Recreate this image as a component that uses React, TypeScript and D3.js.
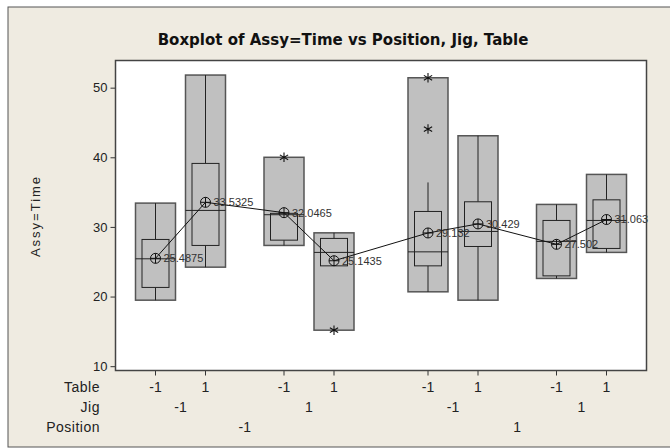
import React, { useEffect, useRef } from 'react';
import * as d3 from 'd3';

// factor levels, one entry per box (Position / Jig / Table)
const tableLabels = ['-1', '1', '-1', '1', '-1', '1', '-1', '1'];
const jigLabels = ['-1', '1', '-1', '1'];
const positionLabels = ['-1', '1'];

// box statistics
const rangeLow = [19.48, 24.22, 27.34, 15.17, 20.68, 19.48, 22.6, 26.34];
const rangeHigh = [33.42, 51.81, 40.0, 29.15, 51.42, 43.09, 33.23, 37.54];
const q1Vals = [21.31, 27.34, 28.1, 24.41, 24.41, 27.19, 22.97, 26.91];
const medianVals = [25.42, 32.37, 31.75, 26.34, 26.42, 29.35, 27.92, 30.93];
const q3Vals = [28.2, 39.12, 31.95, 28.35, 32.22, 33.61, 30.93, 33.89];
const whiskerLow = [19.48, 24.22, 27.34, 24.41, 20.68, 19.48, 22.6, 26.34];
const whiskerHigh = [33.42, 51.81, 31.95, 29.15, 36.39, 43.09, 33.23, 37.54];
const meanVals = [25.4875, 33.5325, 32.0465, 25.1435, 29.132, 30.429, 27.502, 31.063];
const meanLabels = ['25.4875', '33.5325', '32.0465', '25.1435', '29.132', '30.429', '27.502', '31.063'];
const outliers = [[], [], [40.0], [15.17], [44.05, 51.42], [], [], []];

const yTicks = [10, 20, 30, 40, 50];

const W = 670,
  H = 448;
const plot = { left: 115.5, top: 60.5, right: 646.5, bottom: 370.5 };
const jigGap = 0.57,
  posGap = 0.31;
const font = '"Liberation Sans", Arial, sans-serif';

// slot of box k along the x axis, with extra room between jigs and positions
function slot(k) {
  const jig = Math.floor(k / 2);
  const pos = Math.floor(k / 4);
  return k + jig * jigGap + pos * posGap;
}

export default function App() {
  const svgRef = useRef(null);

  useEffect(() => {
    const svg = d3.select(svgRef.current);
    svg.selectAll('*').remove();

    // panel background
    svg.append('rect').attr('x', 0).attr('y', 0).attr('width', W).attr('height', H).attr('fill', '#fff');
    svg
      .append('rect')
      .attr('x', 8)
      .attr('y', 7)
      .attr('width', W)
      .attr('height', 440)
      .attr('fill', '#EFEBE1')
      .attr('stroke', '#555')
      .attr('stroke-width', 1);

    var x = d3.scaleLinear().domain([-0.8, 9.82]).range([plot.left, plot.right]);
    var y = d3.scaleLinear().domain([9.38, 53.9]).range([plot.bottom, plot.top]);

    svg
      .append('rect')
      .attr('x', plot.left)
      .attr('y', plot.top)
      .attr('width', plot.right - plot.left)
      .attr('height', plot.bottom - plot.top)
      .attr('fill', '#fff');

    // title
    svg
      .append('text')
      .attr('x', 343)
      .attr('y', 45)
      .attr('text-anchor', 'middle')
      .style('font-family', '"DejaVu Sans", Verdana, sans-serif')
      .style('font-size', '15px')
      .style('font-weight', 'bold')
      .style('fill', '#111')
      .text('Boxplot of Assy=Time vs Position, Jig, Table');

    // y axis
    const yAxis = svg
      .append('g')
      .attr('transform', 'translate(' + plot.left + ',0)')
      .call(d3.axisLeft(y).tickValues(yTicks).tickSize(5).tickPadding(3));
    yAxis.select('.domain').remove();
    yAxis.selectAll('line').attr('stroke', '#333');
    yAxis
      .selectAll('text')
      .style('font-family', font)
      .style('font-size', '13px')
      .attr('fill', '#222');

    svg
      .append('text')
      .attr('transform', 'translate(40,216) rotate(-90)')
      .attr('text-anchor', 'middle')
      .style('font-family', font)
      .style('font-size', '13px')
      .style('letter-spacing', '2px')
      .style('fill', '#222')
      .text('Assy=Time');

    // x axis: ticks at each box, three rows of factor labels
    const idx = d3.range(tableLabels.length);
    svg
      .append('g')
      .selectAll('line')
      .data(idx)
      .enter()
      .append('line')
      .attr('x1', k => x(slot(k)))
      .attr('x2', k => x(slot(k)))
      .attr('y1', plot.bottom)
      .attr('y2', plot.bottom + 5)
      .attr('stroke', '#333');

    const rowLabel = (txt, yy) =>
      svg
        .append('text')
        .attr('x', 100)
        .attr('y', yy)
        .attr('text-anchor', 'end')
        .style('font-family', font)
        .style('font-size', '14px')
        .style('letter-spacing', '0.5px')
        .style('fill', '#222')
        .text(txt);
    rowLabel('Table', 392);
    rowLabel('Jig', 412);
    rowLabel('Position', 432);

    const lab = (g, data, xf, yy) =>
      g
        .selectAll('text')
        .data(data)
        .enter()
        .append('text')
        .attr('x', xf)
        .attr('y', yy)
        .attr('text-anchor', 'middle')
        .style('font-family', font)
        .style('font-size', '14px')
        .style('fill', '#222')
        .text(d => d);
    lab(svg.append('g'), tableLabels, (d, i) => x(slot(i)), 392);
    lab(svg.append('g'), jigLabels, (d, i) => (x(slot(2 * i)) + x(slot(2 * i + 1))) / 2, 412);
    lab(svg.append('g'), positionLabels, (d, i) => (x(slot(4 * i)) + x(slot(4 * i + 3))) / 2, 432);

    const outerHalf = x(0.4) - x(0);
    const innerHalf = x(0.27) - x(0);
    const boxes = svg.append('g');

    idx.forEach(k => {
      const cx = x(slot(k));
      // range box
      boxes
        .append('rect')
        .attr('x', cx - outerHalf)
        .attr('y', y(rangeHigh[k]))
        .attr('width', outerHalf * 2)
        .attr('height', y(rangeLow[k]) - y(rangeHigh[k]))
        .attr('fill', '#C0C0C0')
        .attr('stroke', '#555')
        .attr('stroke-width', 1.5);
      // whiskers
      boxes
        .append('line')
        .attr('x1', cx)
        .attr('x2', cx)
        .attr('y1', y(whiskerHigh[k]))
        .attr('y2', y(q3Vals[k]))
        .attr('stroke', '#222');
      boxes
        .append('line')
        .attr('x1', cx)
        .attr('x2', cx)
        .attr('y1', y(q1Vals[k]))
        .attr('y2', y(whiskerLow[k]))
        .attr('stroke', '#222');
      // IQR box
      boxes
        .append('rect')
        .attr('x', cx - innerHalf)
        .attr('y', y(q3Vals[k]))
        .attr('width', innerHalf * 2)
        .attr('height', y(q1Vals[k]) - y(q3Vals[k]))
        .attr('fill', '#C0C0C0')
        .attr('stroke', '#222');
      // median across the range box
      boxes
        .append('line')
        .attr('x1', cx - outerHalf)
        .attr('x2', cx + outerHalf)
        .attr('y1', y(medianVals[k]))
        .attr('y2', y(medianVals[k]))
        .attr('stroke', '#222');
      // outliers
      outliers[k].forEach(v => {
        boxes
          .append('path')
          .attr('transform', 'translate(' + cx + ',' + y(v) + ')')
          .attr('d', d3.symbol().type(d3.symbolAsterisk).size(64)())
          .attr('stroke', '#111')
          .attr('stroke-width', 1.1)
          .attr('fill', 'none');
      });
    });

    // mean connect line
    svg
      .append('path')
      .datum(idx)
      .attr('fill', 'none')
      .attr('stroke', '#111')
      .attr('stroke-width', 1)
      .attr(
        'd',
        d3
          .line()
          .x(k => x(slot(k)))
          .y(k => y(meanVals[k]))
      );

    const means = svg.append('g');
    idx.forEach(k => {
      const cx = x(slot(k)),
        cy = y(meanVals[k]);
      means
        .append('circle')
        .attr('cx', cx)
        .attr('cy', cy)
        .attr('r', 5)
        .attr('fill', 'none')
        .attr('stroke', '#111');
      means
        .append('path')
        .attr('d', 'M' + (cx - 5) + ',' + cy + 'H' + (cx + 5) + 'M' + cx + ',' + (cy - 5) + 'V' + (cy + 5))
        .attr('stroke', '#111');
      means
        .append('text')
        .attr('x', cx + 8)
        .attr('y', cy)
        .attr('dy', '0.35em')
        .style('font-family', font)
        .style('font-size', '11px')
        .style('fill', '#333')
        .text(meanLabels[k]);
    });

    // plot frame
    svg
      .append('rect')
      .attr('x', plot.left)
      .attr('y', plot.top)
      .attr('width', plot.right - plot.left)
      .attr('height', plot.bottom - plot.top)
      .attr('fill', 'none')
      .attr('stroke', '#444')
      .attr('stroke-width', 1.5);
  }, []);

  return <svg ref={svgRef} width={W} height={H} style={{ position: 'absolute', left: 0, top: 0 }} />;
}
